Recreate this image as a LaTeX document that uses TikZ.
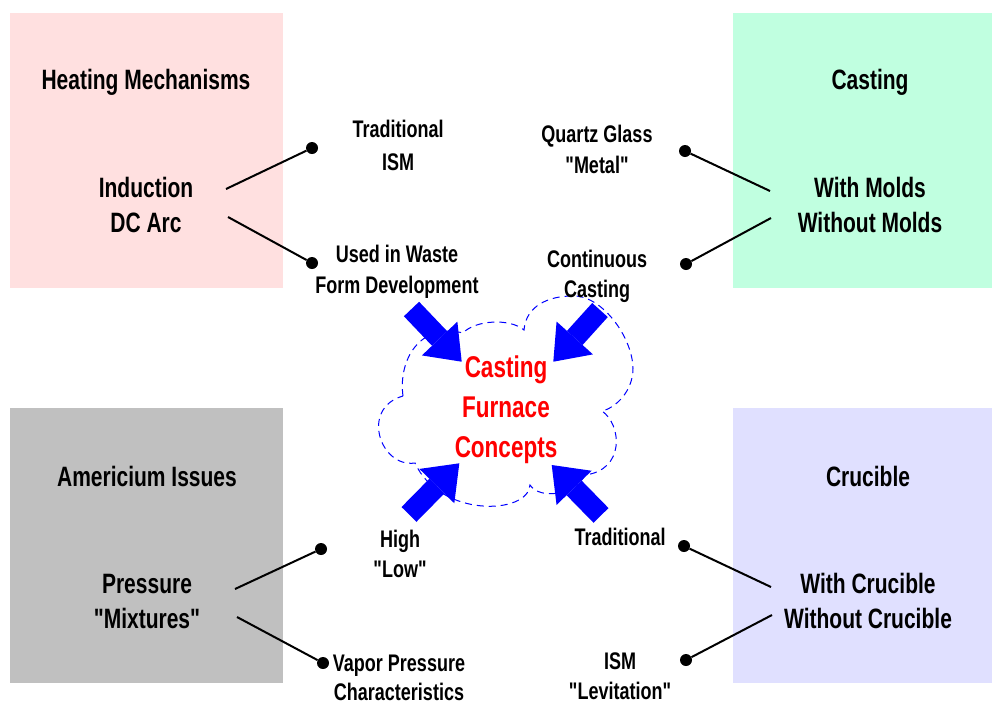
\documentclass[tikz,border=0pt]{standalone}
\usepackage{fontspec}
\setmainfont{Liberation Sans}[FakeStretch=0.75, Ligatures=TeXOff]
\usetikzlibrary{arrows.meta}
\definecolor{boxpink}{RGB}{255,224,224}
\definecolor{boxgreen}{RGB}{192,255,224}
\definecolor{boxgray}{RGB}{192,192,192}
\definecolor{boxlav}{RGB}{224,224,255}
\begin{document}
\begin{tikzpicture}[x=1pt,y=-1pt,
  panel/.style={draw=none, anchor=north west, inner sep=0, minimum width=273pt, minimum height=275pt},
  head/.style={font=\fontsize{28}{34}\selectfont\bfseries, anchor=base, inner sep=0},
  item/.style={font=\fontsize{24}{29}\selectfont\bfseries, anchor=base, inner sep=0},
  core/.style={font=\fontsize{30}{36}\selectfont\bfseries, text=red, anchor=base, inner sep=0},
  dot/.style={circle, fill=black, minimum size=12pt, inner sep=0},
  link/.style={line width=2pt, black},
  bigarrow/.style={blue, line width=21pt, line cap=butt, -{Triangle[length=32pt, width=49pt, line width=0pt]}},
  cloudline/.style={blue, line width=1pt, dash pattern=on 7pt off 5pt}]
\useasboundingbox (0,0) rectangle (992,705);
% panels
\node[panel, fill=boxpink]  (heat)  at (10,13)  {};
\node[panel, fill=boxgreen, minimum width=259pt] (cast)  at (733,13) {};
\node[panel, fill=boxgray]  (amer)  at (10,408) {};
\node[panel, fill=boxlav, minimum width=259pt]   (cruc)  at (733,408) {};
% cloud
\draw[cloudline] (403,396) .. controls (398,360) and (420,322) .. (463,333)
  .. controls (475,320) and (510,318) .. (524,330)
  .. controls (526,305) and (550,296) .. (572,296)
  .. controls (600,294) and (632,335) .. (633,368)
  .. controls (633,392) and (615,408) .. (602,411)
  .. controls (622,425) and (625,470) .. (585,475)
  .. controls (575,495) and (540,500) .. (530,485)
  .. controls (528,515) and (440,518) .. (415,463)
  .. controls (380,468) and (360,408) .. (403,396) -- cycle;
% panel texts
\node[head] (heatT) at (146,89)  {Heating Mechanisms};
\node[head] (ind)   at (146,197) {Induction};
\node[head] (dcarc) at (146,232) {DC Arc};
\node[head] (castT) at (870,89)  {Casting};
\node[head] (wm)    at (870,197) {With Molds};
\node[head] (wom)   at (870,232) {Without Molds};
\node[head] (amT)   at (147,486) {Americium Issues};
\node[head] (pres)  at (147,593) {Pressure};
\node[head] (mix)   at (147,628) {"Mixtures"};
\node[head] (cruT)  at (868,486) {Crucible};
\node[head] (wc)    at (868,593) {With Crucible};
\node[head] (woc)   at (868,628) {Without Crucible};
% items
\node[item] (trad1)  at (398,137) {Traditional};
\node[item] (ism1)   at (398,170) {ISM};
\node[item] (used)   at (397,262) {Used in Waste};
\node[item] (form)   at (397,293) {Form Development};
\node[item] (quartz) at (597,142) {Quartz Glass};
\node[item] (metal)  at (597,173) {"Metal"};
\node[item] (cont)   at (597,267) {Continuous};
\node[item] (ccast)  at (597,297) {Casting};
\node[item] (high)   at (400,547) {High};
\node[item] (low)    at (400,577) {"Low"};
\node[item] (vapor)  at (399,671) {Vapor Pressure};
\node[item] (charc)  at (399,700) {Characteristics};
\node[item] (trad2)  at (620,545) {Traditional};
\node[item] (ism2)   at (620,669) {ISM};
\node[item] (lev)    at (620,699) {"Levitation"};
% center
\node[core] (c1) at (506,377) {Casting};
\node[core] (c2) at (506,417) {Furnace};
\node[core] (c3) at (506,457) {Concepts};
% dots and connector starts
\node[dot] (d1) at (312,148) {};
\node[dot] (d2) at (312,263) {};
\node[dot] (d3) at (685,151) {};
\node[dot] (d4) at (686,264) {};
\node[dot] (d5) at (321,549) {};
\node[dot] (d6) at (323,663) {};
\node[dot] (d7) at (684,546) {};
\node[dot] (d8) at (686,660) {};
\coordinate (s1) at (226,189);
\coordinate (s2) at (228,217);
\coordinate (s3) at (770,191);
\coordinate (s4) at (771,218);
\coordinate (s5) at (235,589);
\coordinate (s6) at (237,617);
\coordinate (s7) at (771,587);
\coordinate (s8) at (772,615);
\draw[link] (s1) -- (d1);
\draw[link] (s2) -- (d2);
\draw[link] (s3) -- (d3);
\draw[link] (s4) -- (d4);
\draw[link] (s5) -- (d5);
\draw[link] (s6) -- (d6);
\draw[link] (s7) -- (d7);
\draw[link] (s8) -- (d8);
% block arrows
\coordinate (a1s) at (411.5,309);   \coordinate (a1e) at (461.7,361.7);
\coordinate (a2s) at (600,310);     \coordinate (a2e) at (553.3,361.7);
\coordinate (a3s) at (409,514.4);   \coordinate (a3e) at (459.3,463.3);
\coordinate (a4s) at (601,515.4);   \coordinate (a4e) at (551.7,465);
\draw[bigarrow] (a1s) -- (a1e);
\draw[bigarrow] (a2s) -- (a2e);
\draw[bigarrow] (a3s) -- (a3e);
\draw[bigarrow] (a4s) -- (a4e);
\end{tikzpicture}
\end{document}
